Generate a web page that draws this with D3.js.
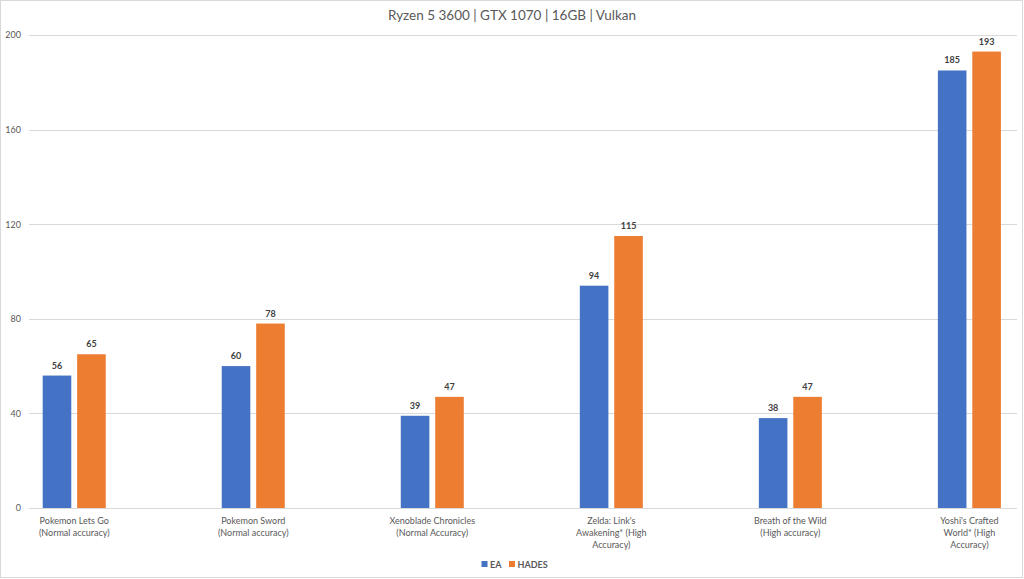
<!DOCTYPE html>
<html>
<head>
<meta charset="utf-8">
<script src="https://cdn.jsdelivr.net/npm/d3@7"></script>
<style>
  html, body { margin: 0; padding: 0; background: #fff; }
  svg { display: block; }
</style>
</head>
<body>
<svg id="chart" width="1024" height="579"></svg>
<script>
const title = "Ryzen 5 3600 | GTX 1070 | 16GB | Vulkan";
const categories = [
  ["Pokemon Lets Go", "(Normal accuracy)"],
  ["Pokemon Sword", "(Normal accuracy)"],
  ["Xenoblade Chronicles", "(Normal Accuracy)"],
  ["Zelda: Link's", "Awakening* (High", "Accuracy)"],
  ["Breath of the Wild", "(High accuracy)"],
  ["Yoshi's Crafted", "World* (High", "Accuracy)"]
];
const seriesNames = ["EA", "HADES"];
const eaValues = [56, 60, 39, 94, 38, 185];
const hadesValues = [65, 78, 47, 115, 47, 193];
const yTicks = [0, 40, 80, 120, 160, 200];
const colors = ["#4472C4", "#ED7D31"];

const svg = d3.select("#chart");
const font = "Lato, 'Open Sans', sans-serif";
const textColor = "#595959";

// outer border
svg.append("rect").attr("x", 0.5).attr("y", 0.5).attr("width", 1022).attr("height", 577)
  .attr("fill", "#fff").attr("stroke", "#d9d9d9");

// title
svg.append("text").attr("x", 512).attr("y", 20).attr("text-anchor", "middle")
  .attr("font-family", font).attr("font-size", 13.5).attr("fill", textColor)
  .text(title);

const y = d3.scaleLinear().domain([0, 200]).range([508, 35]);
const catIdx = categories.map((d, i) => i);
const x0 = d3.scaleBand().domain(catIdx).range([-15.3, 1058.9])
  .paddingInner(0.648).paddingOuter(0.324);
const x1 = d3.scaleBand().domain(seriesNames).range([0, x0.bandwidth()]).paddingInner(0.17);

// gridlines
const gridX0 = 29, gridX1 = 1017;
svg.append("g").selectAll("line").data(yTicks).join("line")
  .attr("x1", gridX0).attr("x2", gridX1)
  .attr("y1", d => Math.round(y(d)) + 0.5).attr("y2", d => Math.round(y(d)) + 0.5)
  .attr("stroke", "#d9d9d9").attr("stroke-width", 1);

// y axis labels
const yAxis = d3.axisLeft(y).tickValues(yTicks).tickSize(0).tickPadding(0);
const yg = svg.append("g").attr("transform", "translate(21,0)").call(yAxis);
yg.select(".domain").remove();
yg.selectAll("text").attr("font-family", font).attr("font-size", 9).attr("fill", textColor);

// bars
const data = categories.map((c, i) => ({ i, vals: [eaValues[i], hadesValues[i]] }));
const groups = svg.append("g").selectAll("g").data(data).join("g")
  .attr("transform", d => `translate(${x0(d.i)},0)`);
groups.selectAll("rect").data(d => d.vals.map((v, k) => ({ k, v }))).join("rect")
  .attr("x", d => x1(seriesNames[d.k]))
  .attr("width", x1.bandwidth())
  .attr("y", d => y(d.v))
  .attr("height", d => y(0) - y(d.v))
  .attr("fill", d => colors[d.k]);
groups.selectAll("text.val").data(d => d.vals.map((v, k) => ({ k, v }))).join("text")
  .attr("class", "val")
  .attr("x", d => x1(seriesNames[d.k]) + x1.bandwidth() / 2)
  .attr("y", d => y(d.v) - 7)
  .attr("text-anchor", "middle")
  .attr("font-family", font).attr("font-size", 9).attr("font-weight", "bold")
  .attr("fill", "#404040")
  .text(d => d.v);

// category labels
const cl = svg.append("g").selectAll("text").data(categories).join("text")
  .attr("text-anchor", "middle")
  .attr("font-family", font).attr("font-size", 9).attr("fill", textColor)
  .attr("transform", (d, i) => `translate(${x0(i) + x0.bandwidth() / 2},524)`);
cl.selectAll("tspan").data(d => d).join("tspan")
  .attr("x", 0).attr("y", (d, j) => j * 11.8).text(d => d);

// legend
const legendItems = [
  { name: seriesNames[0], color: colors[0], x: 481.5 },
  { name: seriesNames[1], color: colors[1], x: 509 }
];
const lg = svg.append("g").selectAll("g").data(legendItems).join("g")
  .attr("transform", d => `translate(${d.x},561)`);
lg.append("rect").attr("width", 6).attr("height", 6).attr("fill", d => d.color);
lg.append("text").attr("x", 8.5).attr("y", 6.5)
  .attr("font-family", font).attr("font-size", 9).attr("font-weight", "bold")
  .attr("fill", textColor).text(d => d.name);
</script>
</body>
</html>
